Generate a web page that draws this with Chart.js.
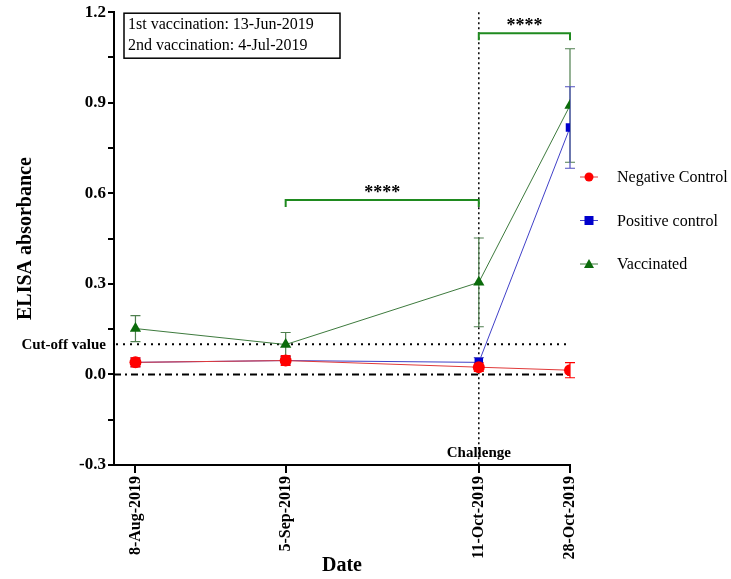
<!DOCTYPE html>
<html>
<head>
<meta charset="utf-8">
<script src="https://cdn.jsdelivr.net/npm/chart.js@4.4.1/dist/chart.umd.min.js"></script>
<style>
  html, body { margin: 0; padding: 0; background: #fff; }
  #wrap { width: 731px; height: 579px; }
</style>
</head>
<body>
<div id="wrap"><canvas id="elisa" width="731" height="579"></canvas></div>
<script>
// sampling dates and days since the first bleed
const dateLabels = ['8-Aug-2019', '5-Sep-2019', '11-Oct-2019', '28-Oct-2019'];
const sampleDays = [0, 28, 64, 81];

// mean ELISA absorbance and SD per group
const negMean = [0.040, 0.046, 0.024, 0.014];
const negSd = [0.015, 0.016, 0.014, 0.025];
const posMean = [0.040, 0.046, 0.040, 0.818];
const posSd = [0.014, 0.012, 0.016, 0.135];
const vacMean = [0.152, 0.099, 0.305, 0.891];
const vacSd = [0.043, 0.040, 0.147, 0.188];

const yTicks = [-0.3, 0, 0.3, 0.6, 0.9, 1.2];
const cutOff = 0.1;
const challengeDay = 64;
const vaccinations = ['1st vaccination: 13-Jun-2019', '2nd vaccination: 4-Jul-2019'];
const brackets = [
  { from: 28, to: 64, y: 0.578, label: '****' },
  { from: 64, to: 81, y: 1.13, label: '****' }
];

const SERIF = '"Liberation Serif", "Times New Roman", serif';
const RED = '#ff0000';
const BLUE = '#0000cc';
const GREEN = '#0b6b0b';

function points(mean) {
  return sampleDays.map((d, i) => ({ x: d, y: mean[i] }));
}

const groups = [
  { label: 'Negative Control', mean: negMean, sd: negSd, color: RED, line: '#e03a3a', bar: RED, style: 'circle', r: 6 },
  { label: 'Positive control', mean: posMean, sd: posSd, color: BLUE, line: '#4040c8', bar: '#5050c0', style: 'rect', r: 6 },
  { label: 'Vaccinated', mean: vacMean, sd: vacSd, color: GREEN, line: '#3d7a3d', bar: '#4f7f4f', style: 'triangle', r: 6.5 }
];

// reference lines, error bars, brackets, notes and legend
const extras = {
  id: 'extras',
  beforeDatasetsDraw(chart) {
    const { ctx, chartArea: a, scales: { x, y } } = chart;
    ctx.save();
    ctx.strokeStyle = '#000';
    ctx.lineWidth = 2;

    // cut-off line
    ctx.setLineDash([2, 5]);
    ctx.beginPath();
    ctx.moveTo(a.left + 2, y.getPixelForValue(cutOff));
    ctx.lineTo(a.right - 2, y.getPixelForValue(cutOff));
    ctx.stroke();

    // zero line
    ctx.setLineDash([7, 4, 2, 4]);
    ctx.beginPath();
    ctx.moveTo(a.left, y.getPixelForValue(0));
    ctx.lineTo(a.right, y.getPixelForValue(0));
    ctx.stroke();

    // challenge marker
    ctx.lineWidth = 1.5;
    ctx.setLineDash([2, 3]);
    ctx.beginPath();
    ctx.moveTo(x.getPixelForValue(challengeDay), a.top);
    ctx.lineTo(x.getPixelForValue(challengeDay), a.bottom);
    ctx.stroke();
    ctx.setLineDash([]);

    // error bars
    groups.slice().reverse().forEach(g => {
      ctx.strokeStyle = g.bar;
      ctx.lineWidth = 1.2;
      sampleDays.forEach((d, i) => {
        const px = x.getPixelForValue(d);
        const top = y.getPixelForValue(g.mean[i] + g.sd[i]);
        const bot = y.getPixelForValue(g.mean[i] - g.sd[i]);
        ctx.beginPath();
        ctx.moveTo(px, top); ctx.lineTo(px, bot);
        ctx.moveTo(px - 5, top); ctx.lineTo(px + 5, top);
        ctx.moveTo(px - 5, bot); ctx.lineTo(px + 5, bot);
        ctx.stroke();
      });
    });
    ctx.restore();
  },
  afterDraw(chart) {
    const { ctx, chartArea: a, scales: { x, y } } = chart;
    ctx.save();

    // significance brackets
    brackets.forEach(b => {
      const x1 = x.getPixelForValue(b.from);
      const x2 = x.getPixelForValue(b.to);
      const py = y.getPixelForValue(b.y);
      ctx.strokeStyle = '#1f8a1f';
      ctx.lineWidth = 2;
      ctx.beginPath();
      ctx.moveTo(x1, py + 7); ctx.lineTo(x1, py); ctx.lineTo(x2, py); ctx.lineTo(x2, py + 7);
      ctx.stroke();
      ctx.fillStyle = '#000';
      ctx.font = 'bold 18px ' + SERIF;
      ctx.textAlign = 'center';
      ctx.textBaseline = 'alphabetic';
      ctx.fillText(b.label, (x1 + x2) / 2, py - 2);
    });

    // vaccination note
    ctx.strokeStyle = '#000';
    ctx.lineWidth = 1.5;
    ctx.strokeRect(a.left + 10, a.top + 1, 216, 45);
    ctx.fillStyle = '#000';
    ctx.font = '16px ' + SERIF;
    ctx.textAlign = 'left';
    ctx.textBaseline = 'middle';
    ctx.fillText(vaccinations[0], a.left + 14, a.top + 13);
    ctx.fillText(vaccinations[1], a.left + 14, a.top + 34);

    // labels for the reference lines
    ctx.font = 'bold 15px ' + SERIF;
    ctx.textAlign = 'right';
    ctx.fillText('Cut-off value', a.left - 8, y.getPixelForValue(cutOff) + 1);
    ctx.textAlign = 'center';
    ctx.fillText('Challenge', x.getPixelForValue(challengeDay), a.bottom - 12);

    // legend
    groups.forEach((g, i) => {
      const ly = 177 + i * 43.5;
      const lx = 589;
      ctx.strokeStyle = g.line;
      ctx.lineWidth = 1;
      ctx.beginPath();
      ctx.moveTo(lx - 9, ly); ctx.lineTo(lx + 9, ly);
      ctx.stroke();
      ctx.fillStyle = g.color;
      ctx.beginPath();
      if (g.style === 'circle') {
        ctx.arc(lx, ly, 4.5, 0, Math.PI * 2);
      } else if (g.style === 'rect') {
        ctx.rect(lx - 4.5, ly - 4.5, 9, 9);
      } else {
        ctx.moveTo(lx, ly - 5); ctx.lineTo(lx + 5, ly + 4); ctx.lineTo(lx - 5, ly + 4); ctx.closePath();
      }
      ctx.fill();
      ctx.fillStyle = '#000';
      ctx.font = '16px ' + SERIF;
      ctx.textAlign = 'left';
      ctx.textBaseline = 'middle';
      ctx.fillText(g.label, 617, ly + 1);
    });
    ctx.restore();
  }
};

new Chart(document.getElementById('elisa'), {
  type: 'line',
  data: {
    datasets: groups.map(g => ({
      label: g.label,
      data: points(g.mean),
      borderColor: g.line,
      borderWidth: 1,
      backgroundColor: g.color,
      pointBackgroundColor: g.color,
      pointBorderColor: g.color,
      pointStyle: g.style,
      pointRadius: g.r,
      pointBorderWidth: 0,
      tension: 0,
      fill: false
    }))
  },
  options: {
    responsive: false,
    animation: false,
    devicePixelRatio: 1,
    layout: { padding: { left: 0, right: 161, top: 12, bottom: 0 } },
    plugins: { legend: { display: false }, tooltip: { enabled: false } },
    scales: {
      x: {
        type: 'linear',
        min: -4,
        max: 81,
        afterBuildTicks: (s) => { s.ticks = sampleDays.map(v => ({ value: v })); },
        afterFit: (s) => { s.height = 114; },
        grid: { drawOnChartArea: false, drawTicks: true, tickLength: 8, color: '#000', lineWidth: 2 },
        border: { display: true, color: '#000', width: 2 },
        ticks: {
          minRotation: 90,
          maxRotation: 90,
          autoSkip: false,
          padding: 3,
          color: '#000',
          font: { family: SERIF, size: 16, weight: 'bold' },
          callback: (v) => dateLabels[sampleDays.indexOf(v)]
        },
        title: {
          display: true,
          text: 'Date',
          color: '#000',
          font: { family: SERIF, size: 20, weight: 'bold' },
          padding: { top: 0, bottom: 1 }
        }
      },
      y: {
        min: -0.3,
        max: 1.2,
        afterBuildTicks: (s) => {
          const t = [];
          yTicks.forEach((v, i) => {
            t.push({ value: v, major: true });
            if (i < yTicks.length - 1) t.push({ value: v + 0.15 });
          });
          s.ticks = t;
        },
        afterFit: (s) => { s.width = 114; },
        grid: { drawOnChartArea: false, drawTicks: true, tickLength: 6, color: '#000', lineWidth: 2 },
        border: { display: true, color: '#000', width: 2 },
        ticks: {
          autoSkip: false,
          padding: 2,
          color: '#000',
          font: { family: SERIF, size: 17, weight: 'bold' },
          callback: (v) => (yTicks.some(t => Math.abs(t - v) < 1e-9) ? v.toFixed(1) : '')
        },
        title: {
          display: true,
          text: 'ELISA absorbance',
          color: '#000',
          font: { family: SERIF, size: 20, weight: 'bold' },
          padding: { top: 14, bottom: 0 }
        }
      }
    }
  },
  plugins: [extras]
});
</script>
</body>
</html>
